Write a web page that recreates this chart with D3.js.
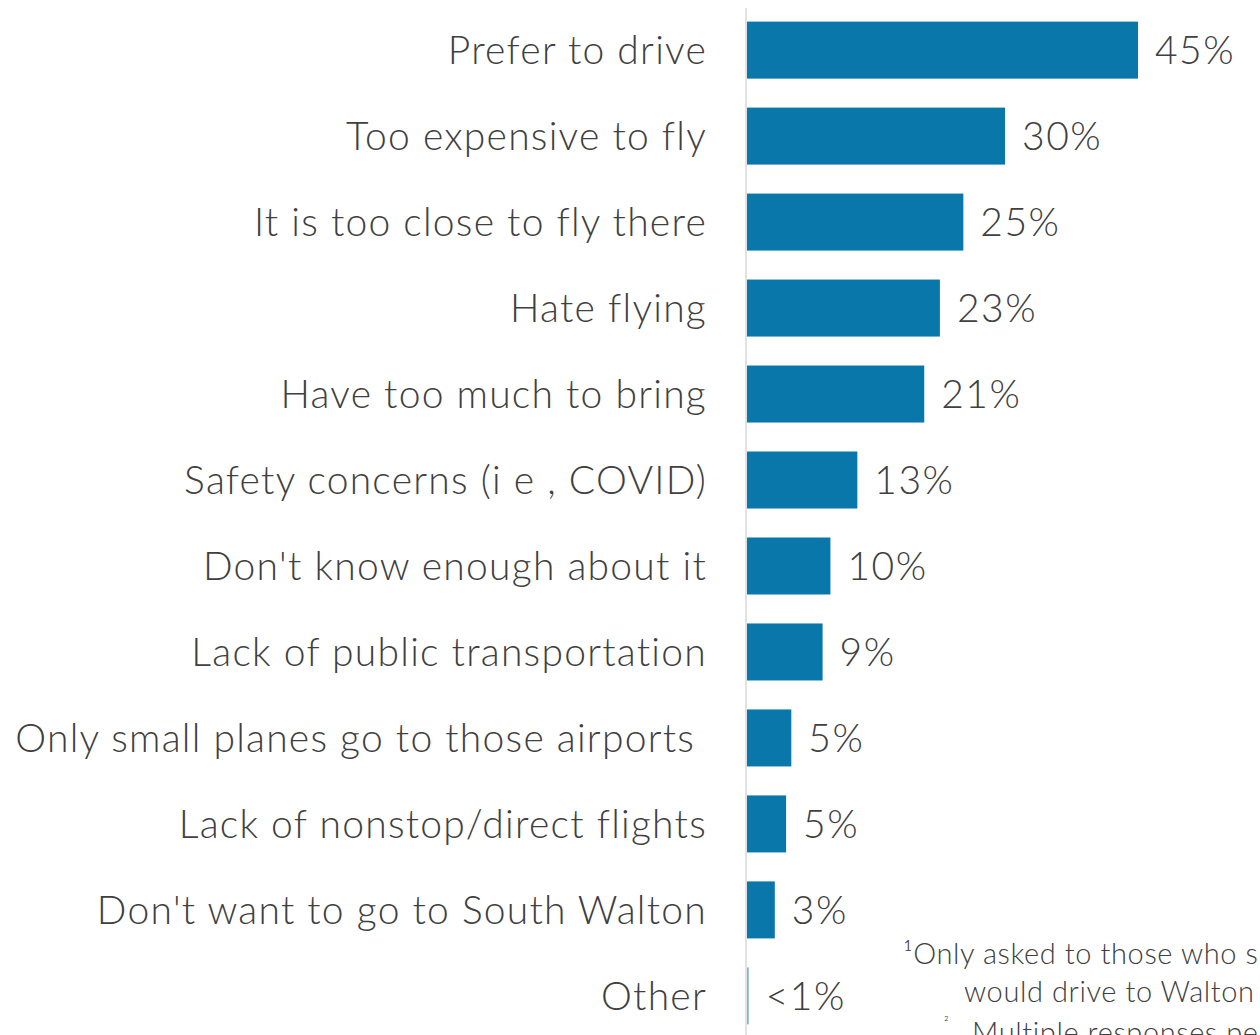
<!DOCTYPE html>
<html><head><meta charset="utf-8">
<script src="https://cdn.jsdelivr.net/npm/d3@7"></script>
<style>
html,body{margin:0;padding:0;background:#fff;overflow:hidden}
svg{display:block}
text{font-family:"Lato","Noto Sans",sans-serif;fill:#404040;font-weight:300}
</style></head>
<body>
<svg id="c" width="1260" height="1035"></svg>
<script>
const categories = ["Prefer to drive","Too expensive to fly","It is too close to fly there","Hate flying","Have too much to bring","Safety concerns (i e , COVID)","Don't know enough about it","Lack of public transportation","Only small planes go to those airports ","Lack of nonstop/direct flights","Don't want to go to South Walton","Other"];
const values = [45, 29.7, 24.9, 22.2, 20.4, 12.7, 9.6, 8.7, 5.1, 4.5, 3.2, 0.2];
const valueLabels = ["45%","30%","25%","23%","21%","13%","10%","9%","5%","5%","3%","<1%"];
const footnotes = ["¹Only asked to those who s","would drive to Walton","Multiple responses pe"];

const svg = d3.select("#c");
const x0 = 747;
const x = d3.scaleLinear().domain([0,45]).range([x0,1138]);
const y = d3.scaleBand().domain(categories).range([7,1039]).paddingInner(0.337).paddingOuter(0.17);

svg.append("line").attr("x1",746).attr("x2",746).attr("y1",8).attr("y2",1035)
  .attr("stroke","#d9d9d9").attr("stroke-width",1.5);

svg.selectAll("rect.bar").data(categories).join("rect").attr("class","bar")
  .attr("x",x0).attr("y",d=>y(d)).attr("height",y.bandwidth())
  .attr("width",(d,i)=>Math.max(1.5,x(values[i])-x0))
  .attr("fill",(d,i)=>i===11?"#7fb6d3":"#0a77ab");

svg.selectAll("text.cat").data(categories).join("text").attr("class","cat")
  .attr("x",707).attr("y",d=>y(d)+y.bandwidth()/2).attr("dy","0.36em")
  .attr("text-anchor","end").style("font-size","39px").style("letter-spacing","1.25px").style("white-space","pre")
  .text(d=>d);

svg.selectAll("text.val").data(categories).join("text").attr("class","val")
  .attr("x",(d,i)=>Math.max(x(values[i]),x0)+17).attr("y",d=>y(d)+y.bandwidth()/2).attr("dy","0.36em")
  .style("font-size","39px").style("letter-spacing","1.5px").text((d,i)=>valueLabels[i]);

const fx=[903,964,972], fy=[964,1002,1043];
svg.selectAll("text.fn").data(footnotes).join("text").attr("class","fn")
  .attr("x",(d,i)=>fx[i]).attr("y",(d,i)=>fy[i]).style("font-size","29px").style("letter-spacing","0.6px").text(d=>d);
svg.append("text").attr("x",944).attr("y",1027).style("font-size","14px").text("²");
</script>
</body></html>
